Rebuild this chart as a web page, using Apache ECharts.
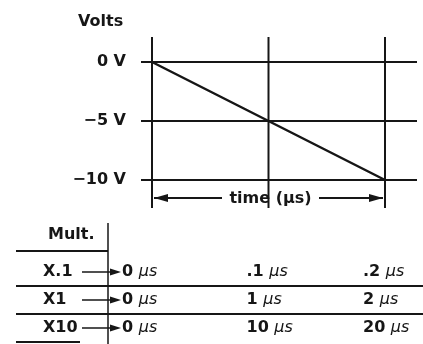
<!DOCTYPE html>
<html>
<head>
<meta charset="utf-8">
<script src="https://cdn.jsdelivr.net/npm/echarts@6/dist/echarts.min.js"></script>
<style>
  html, body { margin: 0; padding: 0; background: #fff; }
  #chart { width: 423px; height: 344px; }
</style>
</head>
<body>
<div id="chart"></div>
<script>
// ramp: 0 V down to -10 V over two time divisions
const timeDiv = [0, 1, 2]
const volts = [0, -5, -10]
const voltTicks = [0, -5, -10]
const voltLabels = { '0': '0 V', '-5': '−5 V', '-10': '−10 V' }

// multiplier table
const multLabels = ['X.1', 'X1', 'X10']
const timeRows = [
  ['0', '.1', '.2'],
  ['0', '1', '2'],
  ['0', '10', '20']
]

const FONT = '"DejaVu Sans", Verdana, sans-serif'
const INK = '#161616'

const chart = echarts.init(document.getElementById('chart'))

// 网格线 + 时间箭头
function renderGrid(params, api) {
  const kids = []
  voltTicks.forEach(v => {
    const a = api.coord([0, v]), b = api.coord([2, v])
    kids.push({ type: 'line', shape: { x1: a[0] - 11, y1: a[1], x2: b[0] + 32, y2: b[1] }, style: { stroke: INK, lineWidth: 2 } })
  })
  timeDiv.forEach(t => {
    const a = api.coord([t, 0]), b = api.coord([t, -10])
    kids.push({ type: 'line', shape: { x1: a[0], y1: a[1] - 25, x2: b[0], y2: b[1] + 28 }, style: { stroke: INK, lineWidth: 2 } })
  })
  const l = api.coord([0, -10]), r = api.coord([2, -10])
  const y = l[1] + 18
  kids.push({ type: 'line', shape: { x1: l[0] + 2, y1: y, x2: l[0] + 70, y2: y }, style: { stroke: INK, lineWidth: 2 } })
  kids.push({ type: 'polygon', shape: { points: [[l[0] + 2, y], [l[0] + 16, y - 4], [l[0] + 16, y + 4]] }, style: { fill: INK } })
  kids.push({ type: 'line', shape: { x1: r[0] - 66, y1: y, x2: r[0] - 2, y2: y }, style: { stroke: INK, lineWidth: 2 } })
  kids.push({ type: 'polygon', shape: { points: [[r[0] - 2, y], [r[0] - 16, y - 4], [r[0] - 16, y + 4]] }, style: { fill: INK } })
  return { type: 'group', children: kids }
}

// 表格：每行箭头、时间文字、分隔线
const colOffset = [-30, -22, -22]
function renderTable(params, api) {
  const row = params.dataIndex
  const c = api.coord([0, row])
  const yc = c[1]
  const kids = []
  kids.push({ type: 'line', shape: { x1: 82, y1: yc, x2: 112, y2: yc }, style: { stroke: INK, lineWidth: 1.5 } })
  kids.push({ type: 'polygon', shape: { points: [[121, yc], [110, yc - 3.5], [110, yc + 3.5]] }, style: { fill: INK } })
  timeRows[row].forEach((t, i) => {
    const p = api.coord([i, row])
    kids.push({
      type: 'text',
      style: {
        x: p[0] + colOffset[i], y: yc, text: '{n|' + t + ' }{u|µs}',
        verticalAlign: 'middle', align: 'left',
        rich: {
          n: { fontFamily: FONT, fontSize: 16, fontWeight: 'bold', fill: INK },
          u: { fontFamily: FONT, fontSize: 16, fontStyle: 'italic', fill: INK }
        }
      }
    })
  })
  const yb = yc + 14
  const xEnd = row < 2 ? 423 : 80
  kids.push({ type: 'line', shape: { x1: 16, y1: yb, x2: xEnd, y2: yb }, style: { stroke: INK, lineWidth: 2 } })
  if (row === 0) {
    kids.push({ type: 'line', shape: { x1: 16, y1: yc - 21, x2: 108, y2: yc - 21 }, style: { stroke: INK, lineWidth: 2 } })
    kids.push({ type: 'line', shape: { x1: 108, y1: yc - 49, x2: 108, y2: 344 }, style: { stroke: INK, lineWidth: 1.5 } })
  }
  return { type: 'group', children: kids }
}

chart.setOption({
  animation: false,
  backgroundColor: '#fff',
  title: [
    { text: 'Volts', left: 73, top: 9, textStyle: { fontFamily: FONT, fontSize: 16, fontWeight: 'bold', color: INK } },
    { text: 'Mult.', left: 43, top: 222, textStyle: { fontFamily: FONT, fontSize: 16, fontWeight: 'bold', color: INK } }
  ],
  grid: [
    { left: 152, right: 38, top: 62, bottom: 164 },
    { left: 152, right: 38, top: 258, height: 84 }
  ],
  xAxis: [
    {
      gridIndex: 0, type: 'value', min: 0, max: 2,
      axisLine: { show: false }, axisTick: { show: false }, axisLabel: { show: false }, splitLine: { show: false },
      name: 'time (µs)', nameLocation: 'middle', nameGap: 11,
      nameTextStyle: { fontFamily: FONT, fontSize: 16, fontWeight: 'bold', color: INK, padding: [0, 0, 0, 4] }
    },
    {
      gridIndex: 1, type: 'value', min: 0, max: 2, show: false
    }
  ],
  yAxis: [
    {
      gridIndex: 0, type: 'value', min: -10, max: 0, interval: 5,
      axisLine: { show: false }, axisTick: { show: false }, splitLine: { show: false },
      axisLabel: { margin: 26, formatter: v => voltLabels[String(v)], fontFamily: FONT, fontSize: 16, fontWeight: 'bold', color: INK }
    },
    {
      gridIndex: 1, type: 'category', data: multLabels, inverse: true,
      axisLine: { show: false }, axisTick: { show: false }, splitLine: { show: false },
      axisLabel: { margin: 109, align: 'left', fontFamily: FONT, fontSize: 16, fontWeight: 'bold', color: INK }
    }
  ],
  series: [
    { type: 'custom', xAxisIndex: 0, yAxisIndex: 0, renderItem: renderGrid, data: [[0, 0]], silent: true, clip: false },
    {
      type: 'line', xAxisIndex: 0, yAxisIndex: 0, symbol: 'none',
      data: timeDiv.map((t, i) => [t, volts[i]]),
      lineStyle: { color: INK, width: 2.5 }
    },
    { type: 'custom', xAxisIndex: 1, yAxisIndex: 1, renderItem: renderTable, data: multLabels.map((m, i) => [0, i]), silent: true, clip: false }
  ]
})
</script>
</body>
</html>
